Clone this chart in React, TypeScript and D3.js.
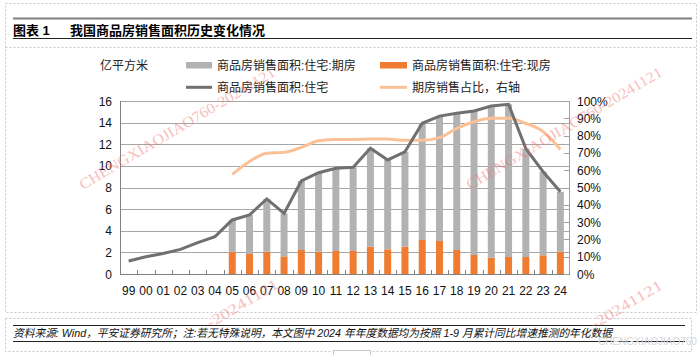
import React from "react";
import * as d3 from "d3";

const years = ["99","00","01","02","03","04","05","06","07","08","09","10","11","12","13","14","15","16","17","18","19","20","21","22","23","24"];
const totalArea = [1.2,1.6,1.9,2.28,2.9,3.45,5.0,5.46,6.94,5.6,8.6,9.37,9.78,9.87,11.63,10.55,11.3,13.94,14.6,14.86,15.08,15.54,15.7,11.6,9.46,7.6];
const presaleArea = [null,null,null,null,null,null,2.94,3.61,4.88,3.97,6.38,7.31,7.65,7.74,9.1,8.27,8.77,10.79,11.55,12.64,13.32,14.03,14.13,10.03,7.73,5.54];
const spotArea = [null,null,null,null,null,null,2.06,1.85,2.06,1.63,2.22,2.06,2.13,2.13,2.53,2.28,2.53,3.15,3.05,2.22,1.76,1.51,1.57,1.57,1.73,2.06];
const presaleShare = [null,null,null,null,null,null,57.6,65,69.8,70.3,73.2,77,77.8,77.8,78,78,77.3,77.3,78.8,84.2,88,90,90,87,82.3,72];
const leftTicks = [0,2,4,6,8,10,12,14,16];
const rightTicks = [0,10,20,30,40,50,60,70,80,90,100];

const title = "我国商品房销售面积历史变化情况";
const unitLabel = "亿平方米";
const legendNames = ["商品房销售面积:住宅:期房","商品房销售面积:住宅:现房","商品房销售面积:住宅","期房销售占比，右轴"];
const footer = "资料来源: Wind，平安证券研究所；注:若无特殊说明，本文图中 2024 年年度数据均为按照 1-9 月累计同比增速推测的年化数据";
const watermark = "CHENGXIAOJIAO760-20241121";
const watermarkTail = "-20241121";

const FONT = "'Liberation Sans', Arial, 'Noto Sans CJK SC', sans-serif";
const GRAY_BAR = "#b2b2b2";
const ORANGE = "#ee7d31";
const DARK_LINE = "#707070";
const LIGHT_ORANGE = "#fbc196";

export default function App() {
  const W = 700, H = 355;
  const left = 120, right = 569, top = 101, bottom = 274;
  const x = d3.scaleBand<string>().domain(years).range([left, right]).padding(0);
  const step = x.step();
  const bw = 7;
  const cx = (d: string) => (x(d) as number) + step / 2;
  const yL = d3.scaleLinear().domain([0, 16]).range([bottom, top]);
  const yR = d3.scaleLinear().domain([0, 100]).range([bottom, top]);

  const totalLine = d3.line<number>().x((_, i) => cx(years[i])).y((v) => yL(v))(totalArea) || "";
  const shareLine = d3
    .line<number | null>()
    .defined((v) => v !== null)
    .x((_, i) => cx(years[i]))
    .y((v) => yR(v as number))
    .curve(d3.curveMonotoneX)(presaleShare) || "";

  const wmFull = [
    [83, 190],
    [470, 190],
  ];
  const wmTail = [
    [210, 328.5],
    [594, 329.5],
  ];
  const wmStyle = {
    fontSize: 15,
    fontFamily: "'Liberation Serif', 'DejaVu Serif', serif",
    fill: "#f07070",
    opacity: 0.45,
  };

  return (
    <svg width={W} height={H} style={{ position: "absolute", left: 0, top: 0, background: "#fff" }} fontFamily={FONT}>
      {/* dotted frames */}
      <g fill="none" stroke="#c8c8c8" strokeDasharray="2,2" strokeWidth={1}>
        <rect x={5.5} y={3.5} width={691} height={309} />
        <line x1={5.5} x2={696.5} y1={47.5} y2={47.5} />
        <rect x={5.5} y={318.5} width={686} height={33} />
      </g>
      <rect x={333.5} y={350.5} width={37} height={10} fill="#fff" stroke="#c8c8c8" />

      {/* title */}
      <line x1={13} x2={692} y1={18.5} y2={18.5} stroke="#7f7f7f" strokeWidth={2} />
      <line x1={13} x2={692} y1={38.5} y2={38.5} stroke="#222" strokeWidth={1} />
      <text x={13} y={34.5} fontSize={13} fontWeight="bold" fill="#000">图表 1</text>
      <text x={70} y={34.5} fontSize={13} fontWeight="bold" fill="#000">{title}</text>

      {/* legend */}
      <text x={100} y={69.5} fontSize={12} fill="#222">{unitLabel}</text>
      <rect x={186} y={62} width={26} height={6.5} fill={GRAY_BAR} />
      <text x={217} y={69.5} fontSize={12} fill="#222">{legendNames[0]}</text>
      <rect x={380} y={62} width={27} height={6.5} fill={ORANGE} />
      <text x={412} y={69.5} fontSize={12} fill="#222">{legendNames[1]}</text>
      <line x1={186} x2={212} y1={87.3} y2={87.3} stroke={DARK_LINE} strokeWidth={3} />
      <text x={217} y={91.5} fontSize={12} fill="#222">{legendNames[2]}</text>
      <line x1={380} x2={407} y1={87.3} y2={87.3} stroke={LIGHT_ORANGE} strokeWidth={3} />
      <text x={412} y={91.5} fontSize={12} fill="#222">{legendNames[3]}</text>

      {/* gridlines */}
      {leftTicks.filter((t) => t > 0).map((t) => (
        <line key={"g" + t} x1={left} x2={right} y1={Math.round(yL(t)) + 0.5} y2={Math.round(yL(t)) + 0.5} stroke="#a6a6a6" strokeWidth={1} />
      ))}

      {/* bars */}
      {years.map((yr, i) =>
        spotArea[i] === null ? null : (
          <g key={"b" + yr}>
            <rect x={cx(yr) - bw / 2} y={yL(spotArea[i] as number)} width={bw} height={yL(0) - yL(spotArea[i] as number)} fill={ORANGE} />
            <rect
              x={cx(yr) - bw / 2}
              y={yL((spotArea[i] as number) + (presaleArea[i] as number))}
              width={bw}
              height={yL(spotArea[i] as number) - yL((spotArea[i] as number) + (presaleArea[i] as number))}
              fill={GRAY_BAR}
            />
          </g>
        )
      )}

      {/* axes */}
      <line x1={left + 0.5} x2={left + 0.5} y1={top} y2={bottom} stroke="#808080" />
      <line x1={right + 0.5} x2={right + 0.5} y1={top} y2={bottom} stroke="#a0a0a0" />
      <line x1={left} x2={right + 1} y1={bottom + 0.5} y2={bottom + 0.5} stroke="#808080" />
      {years.map((yr) => (
        <line key={"xt" + yr} x1={Math.round(x(yr) as number) + 0.5} x2={Math.round(x(yr) as number) + 0.5} y1={bottom} y2={bottom - 4} stroke="#808080" />
      ))}
      {rightTicks.map((t) => (
        <line key={"rt" + t} x1={right - 5} x2={right} y1={Math.round(yR(t)) + 0.5} y2={Math.round(yR(t)) + 0.5} stroke="#a0a0a0" />
      ))}
      {leftTicks.map((t) => (
        <text key={"lt" + t} x={112} y={yL(t) + 4.5} fontSize={12} textAnchor="end" fill="#111">{t}</text>
      ))}
      {rightTicks.map((t) => (
        <text key={"rl" + t} x={577} y={yR(t) + 4.5} fontSize={12} fill="#111">{t + "%"}</text>
      ))}
      {years.map((yr) => (
        <text key={"xl" + yr} x={cx(yr)} y={295} fontSize={12} textAnchor="middle" fill="#111">{yr}</text>
      ))}

      {/* lines */}
      <path d={shareLine} fill="none" stroke={LIGHT_ORANGE} strokeWidth={3} />
      <path d={totalLine} fill="none" stroke={DARK_LINE} strokeWidth={3} strokeLinejoin="miter" />

      {/* footer */}
      <line x1={13} x2={685} y1={325.5} y2={325.5} stroke="#222" strokeWidth={1.2} />
      <line x1={13} x2={685} y1={341.5} y2={341.5} stroke="#222" strokeWidth={1.2} />
      <text x={13} y={337} fontSize={11} fontStyle="italic" fill="#111" textLength={599} lengthAdjust="spacingAndGlyphs">{footer}</text>
      <text x={598} y={345} fontSize={10} fill="#d6d6d6">CHENGXIAOJIAO760</text>

      {/* watermarks */}
      {wmFull.map(([wx, wy], i) => (
        <text key={"wm" + i} transform={`translate(${wx},${wy}) rotate(-30.7)`} {...wmStyle} textLength={225} lengthAdjust="spacingAndGlyphs">
          {watermark}
        </text>
      ))}
      {wmTail.map(([wx, wy], i) => (
        <text key={"wt" + i} transform={`translate(${wx},${wy}) rotate(-30.7)`} {...wmStyle} textLength={81} lengthAdjust="spacingAndGlyphs">
          {watermarkTail}
        </text>
      ))}
    </svg>
  );
}
